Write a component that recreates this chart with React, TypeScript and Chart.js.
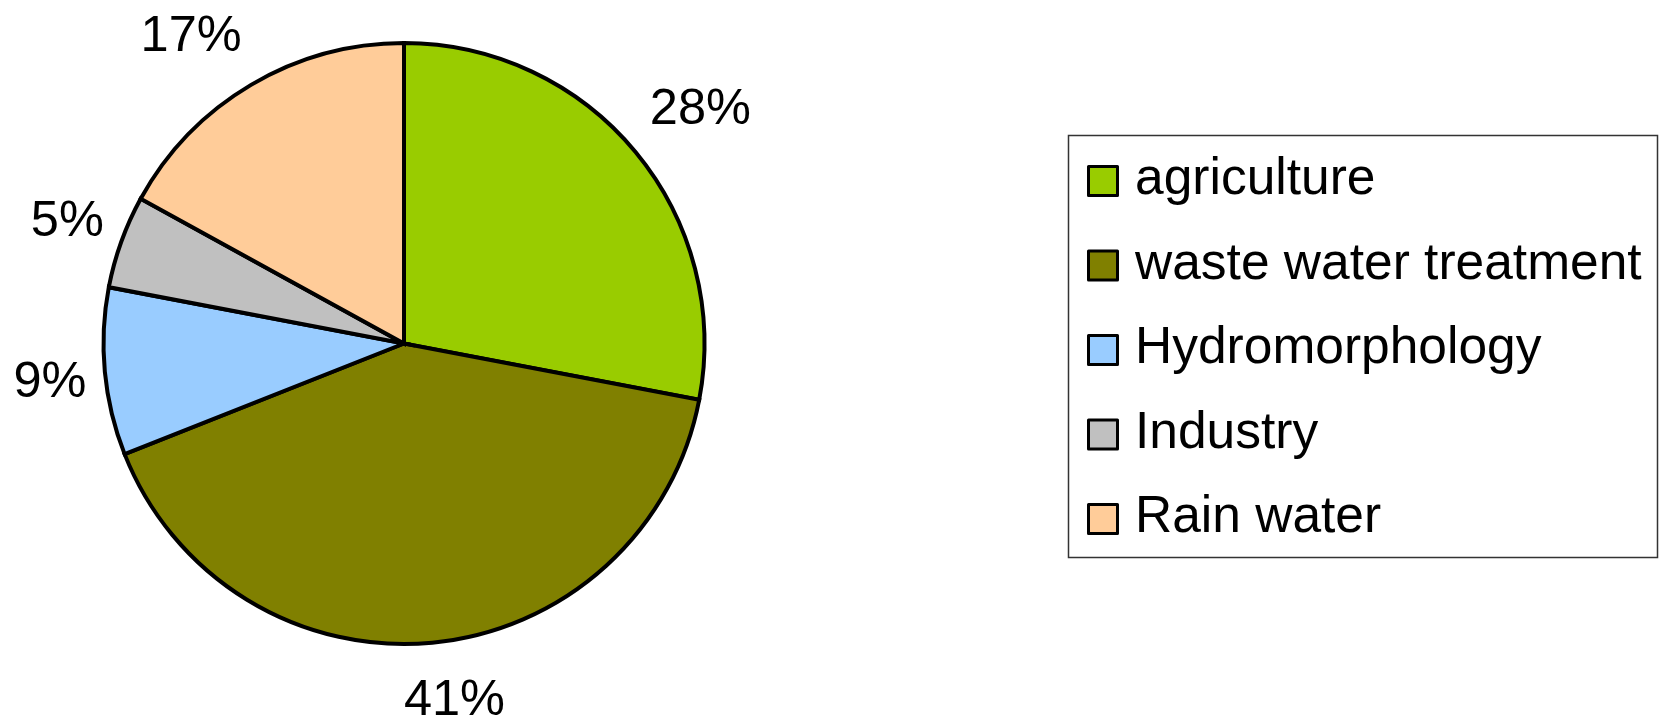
import React, { useEffect, useRef } from "react";
import { Chart, registerables } from "chart.js";

Chart.register(...registerables);

const categories = ["agriculture", "waste water treatment", "Hydromorphology", "Industry", "Rain water"];
const shares = [28, 41, 9, 5, 17];
const sliceColors = ["#99CC00", "#808000", "#99CCFF", "#C0C0C0", "#FFCC99"];

const FONT = '"Liberation Sans", Arial, sans-serif';

const clamp1 = (v: number) => Math.max(-1, Math.min(1, v));

const pctLabelPlugin = {
  id: "pctLabels",
  afterDatasetsDraw(chart: any) {
    const ctx = chart.ctx;
    const meta = chart.getDatasetMeta(0);
    const data = chart.data.datasets[0].data as number[];
    const total = data.reduce((a, b) => a + b, 0);
    ctx.save();
    ctx.font = `50.5px ${FONT}`;
    ctx.fillStyle = "#000";
    ctx.textAlign = "center";
    ctx.textBaseline = "alphabetic";
    const halfH = 36;
    meta.data.forEach((arc: any, i: number) => {
      const { x, y, startAngle, endAngle, outerRadius } = arc.getProps(
        ["x", "y", "startAngle", "endAngle", "outerRadius"],
        true
      );
      const mid = (startAngle + endAngle) / 2;
      const c = Math.cos(mid);
      const s = Math.sin(mid);
      const txt = Math.round((data[i] / total) * 100) + "%";
      const w = ctx.measureText(txt).width;
      const R = outerRadius + 18.5;
      const cx = x + c * R + (w / 2) * clamp1(4.3 * c);
      const cy = y + s * R + halfH * clamp1(1.47 * s);
      ctx.fillText(txt, cx, cy + 18);
    });
    ctx.restore();
  },
};

const legendPlugin = {
  id: "boxLegend",
  afterDraw(chart: any) {
    const ctx = chart.ctx;
    const labels = chart.data.labels as string[];
    const colors = chart.data.datasets[0].backgroundColor as string[];
    ctx.save();
    ctx.lineWidth = 1.5;
    ctx.strokeStyle = "#333";
    ctx.strokeRect(1068.5, 135.5, 589, 422);
    const step = 84.5;
    labels.forEach((lab, i) => {
      const cy = 181 + i * step;
      ctx.beginPath();
      ctx.rect(1088.5, cy - 14.5, 29, 29);
      ctx.fillStyle = colors[i];
      ctx.fill();
      ctx.lineWidth = 3;
      ctx.lineJoin = "round";
      ctx.strokeStyle = "#000";
      ctx.stroke();
      ctx.fillStyle = "#000";
      ctx.font = `51.5px ${FONT}`;
      ctx.textAlign = "left";
      ctx.textBaseline = "alphabetic";
      ctx.fillText(lab, 1135, cy + 13);
    });
    ctx.restore();
  },
};

export default function App() {
  const ref = useRef<HTMLCanvasElement | null>(null);
  useEffect(() => {
    if (!ref.current) return;
    const chart = new Chart(ref.current, {
      type: "pie",
      data: {
        labels: categories,
        datasets: [
          {
            data: shares,
            backgroundColor: sliceColors,
            borderColor: "#000",
            borderWidth: 4,
            borderJoinStyle: "miter",
          } as any,
        ],
      },
      options: {
        responsive: false,
        animation: false,
        devicePixelRatio: 1,
        radius: 300.5,
        layout: { padding: { left: 4, right: 863, top: 0, bottom: 31 } },
        plugins: {
          legend: { display: false },
          tooltip: { enabled: false },
        },
        events: [],
      } as any,
      plugins: [pctLabelPlugin, legendPlugin],
    });
    return () => chart.destroy();
  }, []);
  return (
    <div style={{ position: "absolute", left: 0, top: 0, width: 1667, height: 718, background: "#fff" }}>
      <canvas ref={ref} width={1667} height={718} style={{ display: "block" }} />
    </div>
  );
}
